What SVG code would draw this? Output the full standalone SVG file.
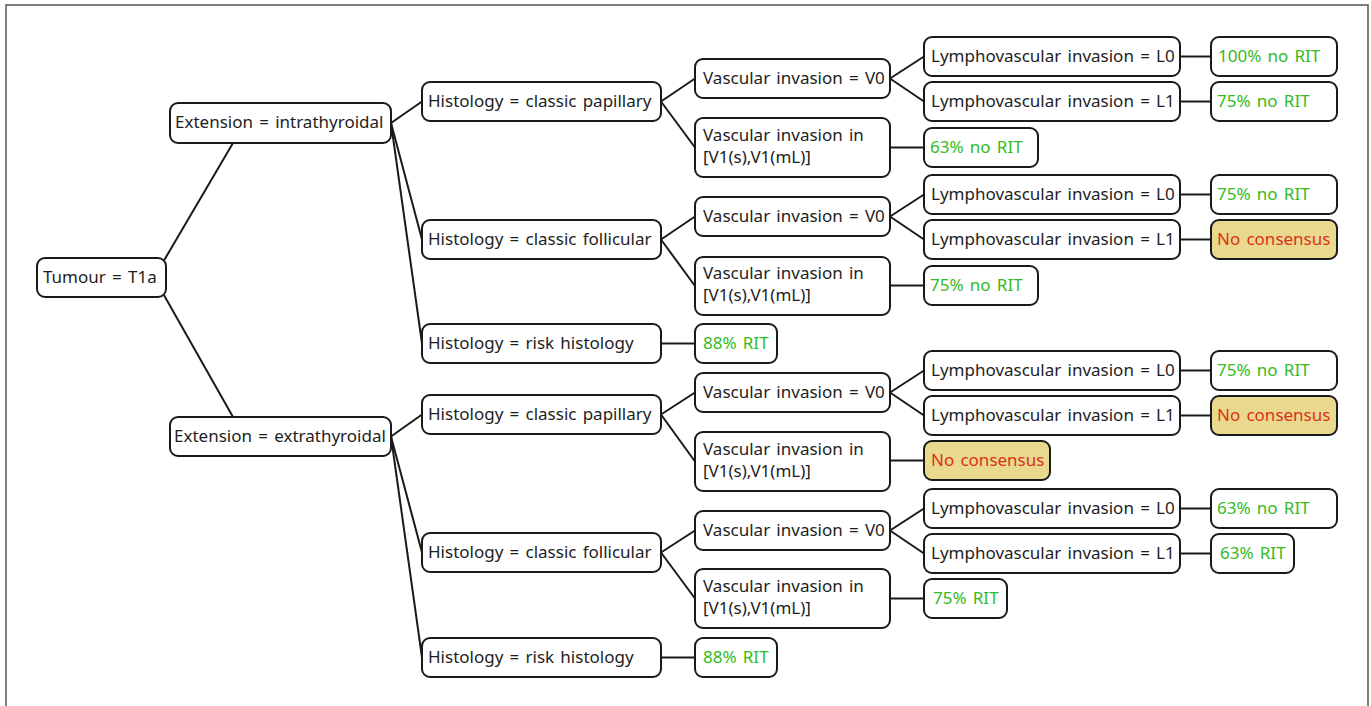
<svg xmlns="http://www.w3.org/2000/svg" width="1371" height="706" viewBox="0 0 1371 706">
<style>
.n rect{fill:#fff;stroke:#1a1a1a;stroke-width:2}
.n.y rect{fill:#e8d98e}
text{font-family:"Noto Sans","Open Sans","DejaVu Sans",sans-serif;font-size:17px;word-spacing:1.8px;fill:#1e1e1e}
.g text{fill:#33bb22}
.r text{fill:#dd3019}
#connectors line{stroke:#1a1a1a;stroke-width:2;fill:none}
</style>
<rect x="6" y="5" width="1362" height="720" fill="#fff" stroke="#555" stroke-width="1.5"/>
<g id="connectors">
<line x1="154" y1="277.5" x2="233" y2="143"/>
<line x1="154" y1="277.5" x2="233" y2="417"/>
<line x1="391" y1="123" x2="422" y2="101.5"/>
<line x1="391" y1="123" x2="422" y2="239.5"/>
<line x1="391" y1="123" x2="422" y2="343.5"/>
<line x1="391" y1="436.5" x2="422" y2="414.5"/>
<line x1="391" y1="436.5" x2="422" y2="552.5"/>
<line x1="391" y1="436.5" x2="422" y2="657.5"/>
<line x1="661" y1="101.5" x2="695" y2="78.5"/>
<line x1="661" y1="101.5" x2="695" y2="147.5"/>
<line x1="661" y1="239.5" x2="695" y2="216.5"/>
<line x1="661" y1="239.5" x2="695" y2="286"/>
<line x1="661" y1="343.5" x2="695" y2="343.5"/>
<line x1="890" y1="78.5" x2="924" y2="56.5"/>
<line x1="890" y1="78.5" x2="924" y2="101.5"/>
<line x1="890" y1="147.5" x2="924" y2="147.5"/>
<line x1="890" y1="216.5" x2="924" y2="194.5"/>
<line x1="890" y1="216.5" x2="924" y2="239.5"/>
<line x1="890" y1="285.5" x2="924" y2="285.5"/>
<line x1="1180" y1="56.5" x2="1211" y2="56.5"/>
<line x1="1180" y1="101.5" x2="1211" y2="101.5"/>
<line x1="1180" y1="194.5" x2="1211" y2="194.5"/>
<line x1="1180" y1="239.5" x2="1211" y2="239.5"/>
<line x1="661" y1="414.5" x2="695" y2="392.5"/>
<line x1="661" y1="414.5" x2="695" y2="461.5"/>
<line x1="661" y1="552.5" x2="695" y2="530.5"/>
<line x1="661" y1="552.5" x2="695" y2="598.5"/>
<line x1="661" y1="657.5" x2="695" y2="657.5"/>
<line x1="890" y1="392.5" x2="924" y2="370.5"/>
<line x1="890" y1="392.5" x2="924" y2="415.5"/>
<line x1="890" y1="460.5" x2="924" y2="460.5"/>
<line x1="890" y1="530.5" x2="924" y2="508.5"/>
<line x1="890" y1="530.5" x2="924" y2="553.5"/>
<line x1="890" y1="598.5" x2="924" y2="598.5"/>
<line x1="1180" y1="370.5" x2="1211" y2="370.5"/>
<line x1="1180" y1="415.5" x2="1211" y2="415.5"/>
<line x1="1180" y1="508.5" x2="1211" y2="508.5"/>
<line x1="1180" y1="553.5" x2="1211" y2="553.5"/>
</g>
<g id="tumour" class="n"><rect x="37" y="258" width="129" height="39" rx="8"/><text x="43" y="283">Tumour = T1a</text></g>
<g id="ext_intra" class="n"><rect x="170" y="103" width="221" height="40" rx="8"/><text x="175" y="128">Extension = intrathyroidal</text></g>
<g id="ext_extra" class="n"><rect x="170" y="417" width="221" height="39" rx="8"/><text x="174" y="442">Extension = extrathyroidal</text></g>

<g id="h_pap1" class="n"><rect x="422" y="82" width="239" height="39" rx="8"/><text x="428" y="107">Histology = classic papillary</text></g>
<g id="h_fol1" class="n"><rect x="422" y="220" width="239" height="39" rx="8"/><text x="428" y="245">Histology = classic follicular</text></g>
<g id="h_risk1" class="n"><rect x="422" y="324" width="239" height="39" rx="8"/><text x="428" y="349">Histology = risk histology</text></g>
<g id="o_risk1" class="n g"><rect x="695" y="324" width="82" height="39" rx="8"/><text x="703" y="349">88% RIT</text></g>
<g id="v0_pap1" class="n"><rect x="695" y="59" width="195" height="39" rx="8"/><text x="703" y="84">Vascular invasion = V0</text></g>
<g id="v1_pap1" class="n"><rect x="695" y="118" width="195" height="59" rx="8"/><text x="703" y="141">Vascular invasion in</text><text x="703" y="163">[V1(s),V1(mL)]</text></g>
<g id="v0_fol1" class="n"><rect x="695" y="197" width="195" height="39" rx="8"/><text x="703" y="222">Vascular invasion = V0</text></g>
<g id="v1_fol1" class="n"><rect x="695" y="257" width="195" height="58" rx="8"/><text x="703" y="279">Vascular invasion in</text><text x="703" y="301">[V1(s),V1(mL)]</text></g>
<g id="l0_pap1" class="n"><rect x="924" y="37" width="256" height="39" rx="8"/><text x="931" y="62">Lymphovascular invasion = L0</text></g>
<g id="l1_pap1" class="n"><rect x="924" y="82" width="256" height="39" rx="8"/><text x="931" y="107">Lymphovascular invasion = L1</text></g>
<g id="o_v1_pap1" class="n g"><rect x="924" y="128" width="114" height="39" rx="8"/><text x="930" y="153">63% no RIT</text></g>
<g id="l0_fol1" class="n"><rect x="924" y="175" width="256" height="39" rx="8"/><text x="931" y="200">Lymphovascular invasion = L0</text></g>
<g id="l1_fol1" class="n"><rect x="924" y="220" width="256" height="39" rx="8"/><text x="931" y="245">Lymphovascular invasion = L1</text></g>
<g id="o_v1_fol1" class="n g"><rect x="924" y="266" width="114" height="39" rx="8"/><text x="930" y="291">75% no RIT</text></g>
<g id="o_l0_pap1" class="n g"><rect x="1211" y="37" width="126" height="39" rx="8"/><text x="1218" y="62">100% no RIT</text></g>
<g id="o_l1_pap1" class="n g"><rect x="1211" y="82" width="126" height="39" rx="8"/><text x="1217" y="107">75% no RIT</text></g>
<g id="o_l0_fol1" class="n g"><rect x="1211" y="175" width="126" height="39" rx="8"/><text x="1217" y="200">75% no RIT</text></g>
<g id="o_l1_fol1" class="n y r"><rect x="1211" y="220" width="126" height="39" rx="8"/><text x="1217" y="245">No consensus</text></g>

<g id="h_pap2" class="n"><rect x="422" y="395" width="239" height="39" rx="8"/><text x="428" y="420">Histology = classic papillary</text></g>
<g id="h_fol2" class="n"><rect x="422" y="533" width="239" height="39" rx="8"/><text x="428" y="558">Histology = classic follicular</text></g>
<g id="h_risk2" class="n"><rect x="422" y="638" width="239" height="39" rx="8"/><text x="428" y="663">Histology = risk histology</text></g>
<g id="o_risk2" class="n g"><rect x="695" y="638" width="82" height="39" rx="8"/><text x="703" y="663">88% RIT</text></g>
<g id="v0_pap2" class="n"><rect x="695" y="373" width="195" height="39" rx="8"/><text x="703" y="398">Vascular invasion = V0</text></g>
<g id="v1_pap2" class="n"><rect x="695" y="432" width="195" height="59" rx="8"/><text x="703" y="455">Vascular invasion in</text><text x="703" y="477">[V1(s),V1(mL)]</text></g>
<g id="v0_fol2" class="n"><rect x="695" y="511" width="195" height="39" rx="8"/><text x="703" y="536">Vascular invasion = V0</text></g>
<g id="v1_fol2" class="n"><rect x="695" y="569" width="195" height="59" rx="8"/><text x="703" y="592">Vascular invasion in</text><text x="703" y="614">[V1(s),V1(mL)]</text></g>
<g id="l0_pap2" class="n"><rect x="924" y="351" width="256" height="39" rx="8"/><text x="931" y="376">Lymphovascular invasion = L0</text></g>
<g id="l1_pap2" class="n"><rect x="924" y="396" width="256" height="39" rx="8"/><text x="931" y="421">Lymphovascular invasion = L1</text></g>
<g id="o_v1_pap2" class="n y r"><rect x="924" y="441" width="126" height="39" rx="8"/><text x="931" y="466">No consensus</text></g>
<g id="l0_fol2" class="n"><rect x="924" y="489" width="256" height="39" rx="8"/><text x="931" y="514">Lymphovascular invasion = L0</text></g>
<g id="l1_fol2" class="n"><rect x="924" y="534" width="256" height="39" rx="8"/><text x="931" y="559">Lymphovascular invasion = L1</text></g>
<g id="o_v1_fol2" class="n g"><rect x="924" y="579" width="83" height="39" rx="8"/><text x="933" y="604">75% RIT</text></g>
<g id="o_l0_pap2" class="n g"><rect x="1211" y="351" width="126" height="39" rx="8"/><text x="1217" y="376">75% no RIT</text></g>
<g id="o_l1_pap2" class="n y r"><rect x="1211" y="396" width="126" height="39" rx="8"/><text x="1217" y="421">No consensus</text></g>
<g id="o_l0_fol2" class="n g"><rect x="1211" y="489" width="126" height="39" rx="8"/><text x="1217" y="514">63% no RIT</text></g>
<g id="o_l1_fol2" class="n g"><rect x="1211" y="534" width="83" height="39" rx="8"/><text x="1220" y="559">63% RIT</text></g>
</svg>
